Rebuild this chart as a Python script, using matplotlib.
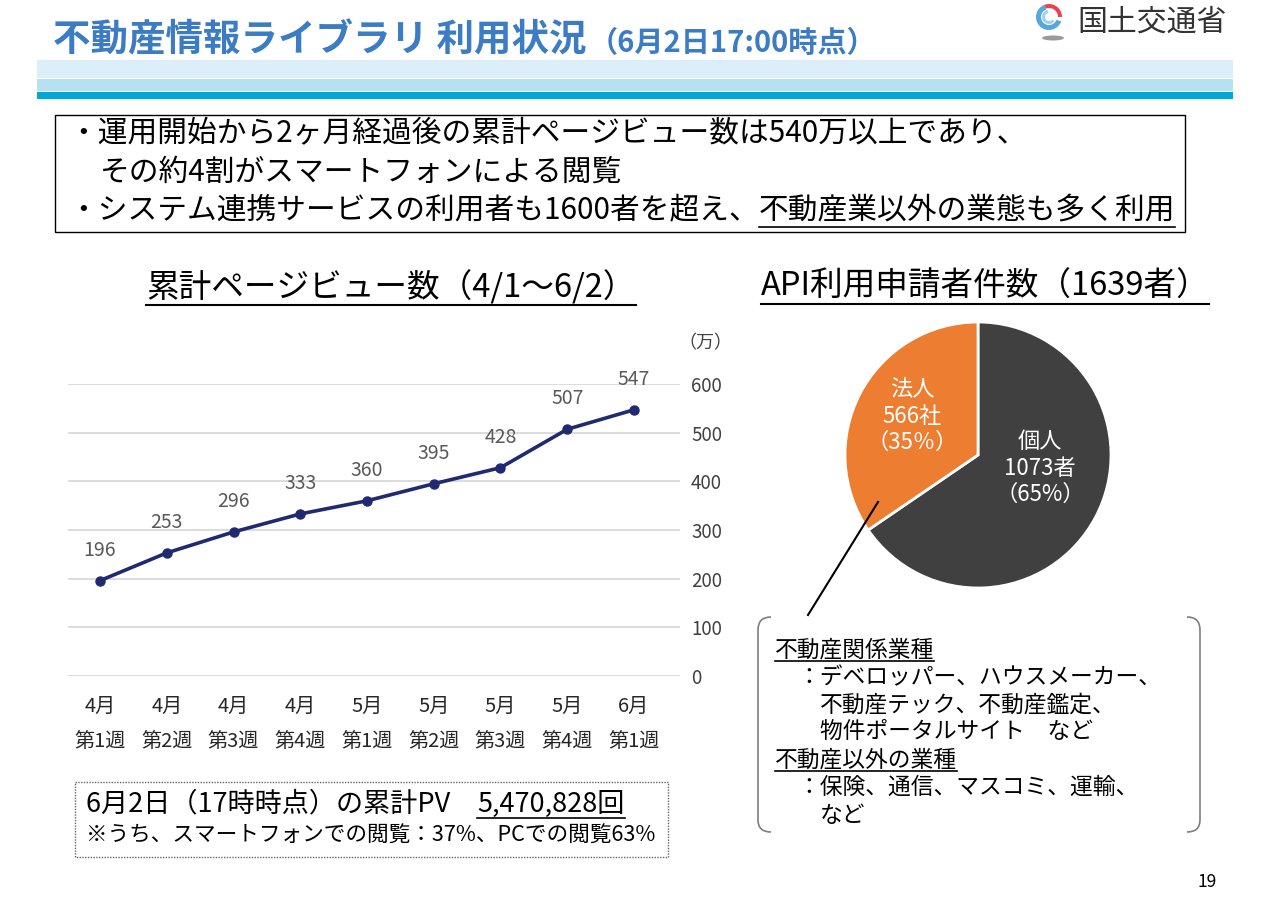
import numpy as np
import matplotlib
matplotlib.use("Agg")
import matplotlib.pyplot as plt
from matplotlib.patches import Rectangle, Wedge, Ellipse, PathPatch
from matplotlib.path import Path
from matplotlib.lines import Line2D
import matplotlib.transforms as mtransforms

plt.rcParams['font.family'] = ['Noto Sans CJK JP', 'DejaVu Sans']

# data
months = ["4月", "4月", "4月", "4月", "5月", "5月", "5月", "5月", "6月"]
weeks = ["第1週", "第2週", "第3週", "第4週", "第1週", "第2週", "第3週", "第4週", "第1週"]
pageviews = [196, 253, 296, 333, 360, 395, 428, 507, 547]  # 万
yticks = [0, 100, 200, 300, 400, 500, 600]

pie_labels = ["個人", "法人"]
pie_counts = [1073, 566]
pie_units = ["者", "社"]
pie_pcts = ["（65%）", "（35％）"]
pie_colors = ["#404040", "#ed7d31"]

W, H = 1270, 897
fig = plt.figure(figsize=(12.7, 8.97), dpi=100)
bg = fig.add_axes([0, 0, 1, 1])
bg.set_xlim(0, W)
bg.set_ylim(H, 0)
bg.axis("off")

renderer = fig.canvas.get_renderer()


def ext(t):
    bb = t.get_window_extent(renderer)
    inv = bg.transData.inverted()
    (x0, y0), (x1, y1) = inv.transform([(bb.x0, bb.y0), (bb.x1, bb.y1)])
    return x0, x1, y0, y1


def underline(t, pad=2, color="black", lw=1.2):
    x0, x1, y0, y1 = ext(t)
    bg.plot([x0, x1], [y0 + pad, y0 + pad], color=color, lw=lw)


# header
title_blue = "#3b7cc4"
t = bg.text(53, 40, "不動産情報ライブラリ 利用状況", fontsize=27, weight="bold",
            color=title_blue, va="center")
x0, x1, _, _ = ext(t)
bg.text(x1 + 2, 43, "（6月2日17:00時点）", fontsize=21, weight="bold",
        color=title_blue, va="center")

bg.add_patch(Rectangle((37, 60), 1196, 18, color="#dbeefa", lw=0))
bg.add_patch(Rectangle((37, 79), 1196, 12, color="#b5e1f0", lw=0))
bg.add_patch(Rectangle((37, 92), 1196, 7, color="#00a7d7", lw=0))

# logo
bg.add_patch(Wedge((1049, 17), 13, 20, 250, width=5, color="#55a8dc", lw=0))
bg.add_patch(Wedge((1049, 17), 13, 250, 360, width=4, color="#e8424a", lw=0))
bg.add_patch(Wedge((1049, 17), 7, 40, 260, width=3, color="#9fd0ef", lw=0))
bg.add_patch(Ellipse((1053, 38), 22, 5, color="#9a9a9a", lw=0))
bg.text(1077, 22, "国土交通省", fontsize=21.5, color="#333333", va="center")

# summary box
bg.add_patch(Rectangle((55, 115), 1130, 117, fill=False, ec="black", lw=1))
fs_box = 21.4
bg.text(68, 133, "・運用開始から2ヶ月経過後の累計ページビュー数は540万以上であり、",
        fontsize=fs_box, va="center")
bg.text(100, 172, "その約4割がスマートフォンによる閲覧", fontsize=fs_box, va="center")
t = bg.text(68, 211, "・システム連携サービスの利用者も1600者を超え、", fontsize=fs_box, va="center")
x0, x1, _, _ = ext(t)
t2 = bg.text(x1, 211, "不動産業以外の業態も多く利用", fontsize=fs_box, va="center")
underline(t2, pad=1)

# chart titles
t = bg.text(391, 287, "累計ページビュー数（4/1～6/2）", fontsize=23.5, ha="center", va="center")
underline(t, pad=1, lw=1.5)
t = bg.text(985, 287, "API利用申請者件数（1639者）", fontsize=23.5, ha="center", va="center")
underline(t, pad=1, lw=1.5)

# line chart
ax = fig.add_axes([68 / W, 1 - 676 / H, (680 - 68) / W, (676 - 384) / H])
xs = np.arange(len(pageviews))
ax.plot(xs, pageviews, color="#1f2a72", lw=2.6, marker="o", ms=6.5, clip_on=False, zorder=3)
for x, v in zip(xs, pageviews):
    ax.annotate(str(v), (x, v), xytext=(0, 22), textcoords="offset points",
                ha="center", va="center", fontsize=14, color="#595959")
ax.set_xlim(-0.48, 8.69)
ax.set_ylim(0, 600)
ax.set_yticks(yticks)
ax.yaxis.tick_right()
ax.tick_params(axis="y", length=0, pad=8, labelsize=13.5, labelcolor="#404040")
ax.set_xticks([])
ax.grid(axis="y", color="#d9d9d9", lw=1.3)
for s in ax.spines.values():
    s.set_visible(False)
ax.patch.set_alpha(0)
tr = mtransforms.blended_transform_factory(ax.transData, ax.transAxes)
for x, m, w in zip(xs, months, weeks):
    ax.text(x, -0.103, m, transform=tr, ha="center", va="center", fontsize=14.5, color="#262626")
    ax.text(x, -0.223, w, transform=tr, ha="center", va="center", fontsize=14.5, color="#262626")
bg.text(705, 343, "（万）", fontsize=13, ha="center", va="center", color="#404040")

# pie chart
cx, cy, r = 978, 455, 133
pax = fig.add_axes([(cx - r) / W, 1 - (cy + r) / H, 2 * r / W, 2 * r / H])
pax.pie(pie_counts, colors=pie_colors, startangle=90, counterclock=False,
        wedgeprops=dict(edgecolor="white", linewidth=2))
pax.set_xlim(-1, 1)
pax.set_ylim(-1, 1)
label_pos = [(0.466, -0.098), (-0.496, 0.293)]
for (px, py), lab, c, u, p in zip(label_pos, pie_labels, pie_counts, pie_units, pie_pcts):
    pax.text(px, py, f"{lab}\n{c}{u}\n{p}", ha="center", va="center", color="white",
             fontsize=16, linespacing=1.2)

fig.add_artist(Line2D([878, 808], [502, 615], transform=bg.transData, color="black", lw=1.5))

# bracket box
def bracket(xe, xin):
    verts = [(xin, 617), (xe, 617), (xe, 630), (xe, 820), (xe, 832), (xin, 832)]
    codes = [Path.MOVETO, Path.CURVE3, Path.CURVE3, Path.LINETO, Path.CURVE3, Path.CURVE3]
    bg.add_patch(PathPatch(Path(verts, codes), fill=False, ec="#7f7f7f", lw=1.2))

bracket(758, 771)
bracket(1200, 1187)

fs_b = 16.4
t = bg.text(775, 650, "不動産関係業種", fontsize=fs_b, va="center")
underline(t, pad=0)
bg.text(797, 678, "：デベロッパー、ハウスメーカー、", fontsize=fs_b, va="center")
bg.text(820, 705, "不動産テック、不動産鑑定、", fontsize=fs_b, va="center")
bg.text(820, 731, "物件ポータルサイト　など", fontsize=fs_b, va="center")
t = bg.text(775, 760, "不動産以外の業種", fontsize=fs_b, va="center")
underline(t, pad=0)
bg.text(797, 787, "：保険、通信、マスコミ、運輸、", fontsize=fs_b, va="center")
bg.text(820, 815, "など", fontsize=fs_b, va="center")

# bottom note box
bg.add_patch(Rectangle((75, 782), 593, 75, fill=False, ec="#666666", lw=1, ls=(0, (1, 1))))
t = bg.text(86, 804, "6月2日（17時時点）の累計PV　", fontsize=19.5, va="center")
x0, x1, _, _ = ext(t)
t2 = bg.text(x1, 804, "5,470,828回", fontsize=19.5, va="center")
underline(t2, pad=0)
bg.text(86, 836, "※うち、スマートフォンでの閲覧：37%、PCでの閲覧63%", fontsize=15.6, va="center")

bg.text(1207, 882, "19", fontsize=12.5, ha="center", va="center")

fig.savefig("out.png", dpi=100)
